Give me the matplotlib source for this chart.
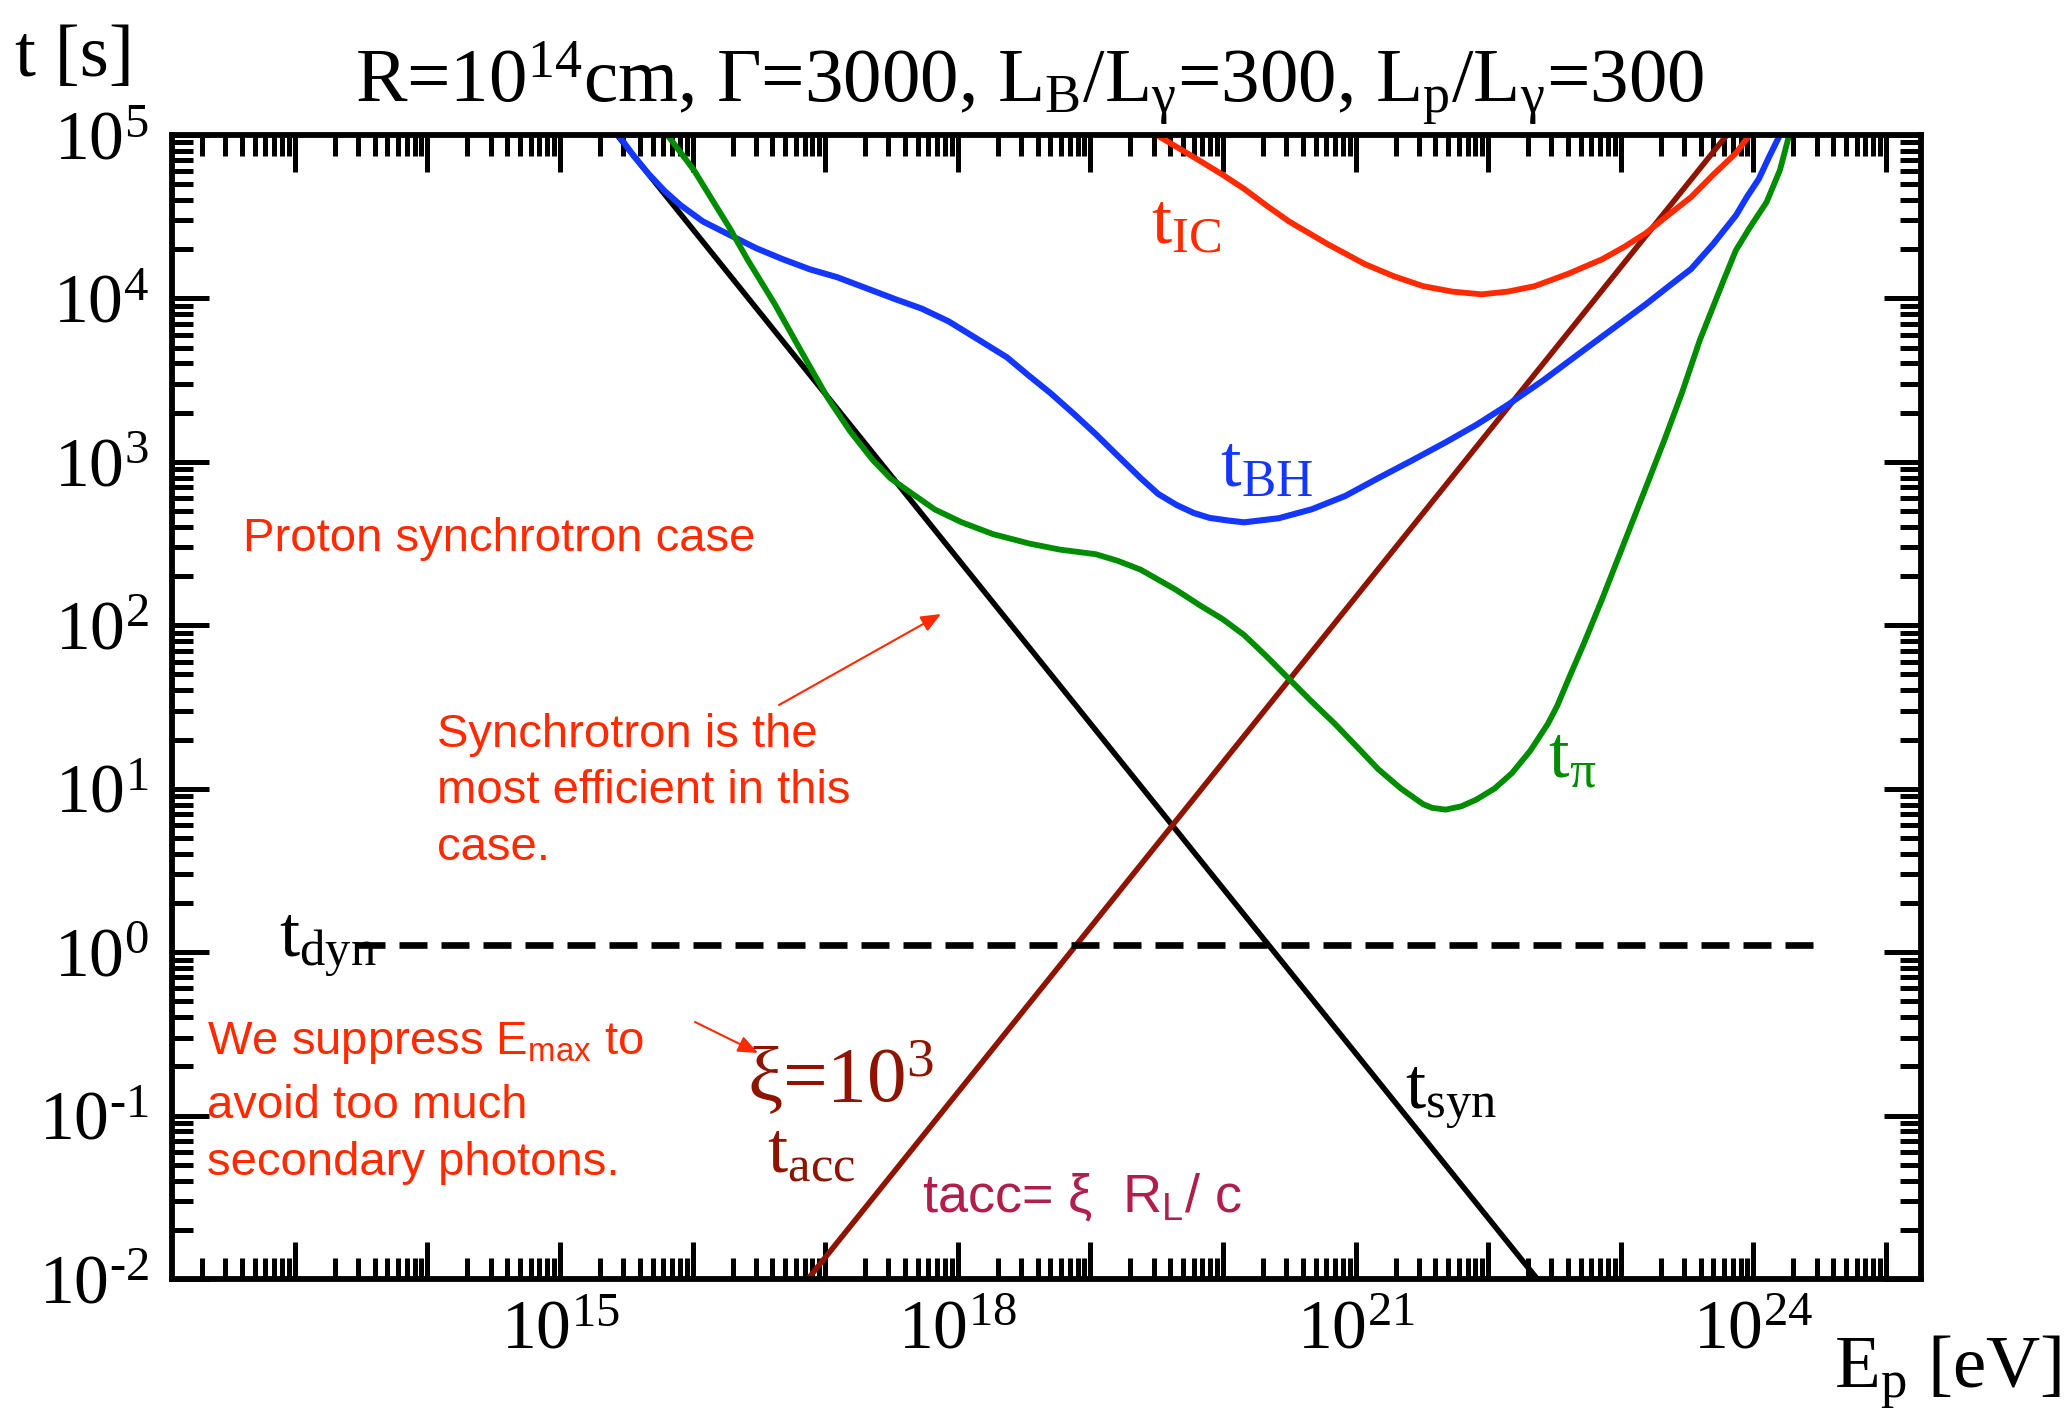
import numpy as np
import matplotlib
matplotlib.use("Agg")
import matplotlib.pyplot as plt
from matplotlib.ticker import FixedLocator, FuncFormatter

plt.rcParams['font.family'] = ['Liberation Serif', 'DejaVu Serif']
plt.rcParams['mathtext.fontset'] = 'custom'
plt.rcParams['mathtext.default'] = 'regular'

# values (log10 of E_p [eV] and log10 of t [s])
syn_logE = [15.43, 22.37]
syn_logt = [5.0, -2.0]

acc_logE = [16.87, 23.80]
acc_logt = [-2.0, 5.0]

dyn_logE = [13.47, 24.46]
dyn_t = [1.1, 1.1]

ic_logE = [19.50, 19.83, 19.995, 20.16, 20.332, 20.50, 20.786, 21.07, 21.291, 21.51,
           21.728, 21.95, 22.149, 22.35, 22.604, 22.86, 23.025, 23.19, 23.361, 23.53,
           23.698, 23.87, 23.97]
ic_logt = [5.00, 4.84, 4.758, 4.67, 4.566, 4.47, 4.334, 4.21, 4.135, 4.075,
           4.042, 4.025, 4.042, 4.075, 4.151, 4.24, 4.315, 4.40, 4.512, 4.62,
           4.758, 4.89, 5.00]

bh_logE = [15.44, 15.556, 15.67, 15.791, 15.91, 16.078, 16.30, 16.481, 16.68, 16.885,
           17.09, 17.289, 17.53, 17.727, 17.93, 18.131, 18.37, 18.535, 18.70, 18.872,
           19.04, 19.208, 19.38, 19.511, 19.65, 19.78, 19.90, 20.049, 20.16, 20.42,
           20.67, 20.921, 21.17, 21.426, 21.68, 21.914, 22.15, 22.419, 22.69, 22.94,
           23.19, 23.361, 23.53, 23.698, 23.87, 23.951, 24.04, 24.119, 24.20]
bh_logt = [5.00, 4.872, 4.76, 4.656, 4.57, 4.471, 4.38, 4.307, 4.24, 4.178,
           4.13, 4.069, 3.995, 3.938, 3.86, 3.760, 3.64, 3.528, 3.42, 3.296,
           3.17, 3.036, 2.90, 2.804, 2.736, 2.687, 2.657, 2.64, 2.63, 2.655,
           2.71, 2.791, 2.90, 3.009, 3.12, 3.228, 3.35, 3.501, 3.665, 3.815,
           3.965, 4.074, 4.18, 4.334, 4.51, 4.621, 4.73, 4.867, 5.00]

pi_logE = [15.81, 16.01, 16.145, 16.28, 16.414, 16.62, 16.818, 17.02, 17.188, 17.36,
           17.491, 17.63, 17.828, 18.03, 18.265, 18.54, 18.77, 19.04, 19.208, 19.38,
           19.646, 19.83, 19.995, 20.16, 20.332, 20.50, 20.668, 20.84, 21.005, 21.17,
           21.342, 21.51, 21.577, 21.68, 21.796, 21.91, 22.048, 22.18, 22.318, 22.45,
           22.52, 22.62, 22.722, 22.86, 23.025, 23.19, 23.328, 23.46, 23.597, 23.77,
           23.867, 23.97, 24.10, 24.20, 24.27]
pi_logt = [5.00, 4.785, 4.607, 4.43, 4.238, 3.965, 3.678, 3.39, 3.187, 3.01,
           2.90, 2.82, 2.708, 2.63, 2.558, 2.50, 2.463, 2.435, 2.394, 2.34,
           2.217, 2.12, 2.039, 1.94, 1.807, 1.67, 1.534, 1.40, 1.261, 1.12,
           1.001, 0.905, 0.883, 0.872, 0.892, 0.933, 1.001, 1.096, 1.233, 1.397,
           1.506, 1.698, 1.889, 2.162, 2.504, 2.845, 3.132, 3.42, 3.747, 4.10,
           4.293, 4.43, 4.59, 4.785, 5.00]

x_labeled = [15, 18, 21, 24]
x_decades = list(range(12, 26))
y_decades = list(range(-2, 6))

RED = '#ff2a00'
BLUE = '#1437ff'
GREEN = '#008c00'
DARKRED = '#8e1400'
CRIMSON = '#b01e4c'

W, H = 2071, 1412
fig = plt.figure(figsize=(W / 100, H / 100), dpi=100)
ax = fig.add_axes([172 / W, 1 - 1279 / H, (1921 - 172) / W, (1279 - 135) / H])


def fx(px):
    return px / W


def fy(py):
    return 1 - py / H


def p10(v):
    return 10 ** np.asarray(v, dtype=float)


ax.plot(p10(syn_logE), p10(syn_logt), color='black', lw=4.0)
ax.plot(p10(acc_logE), p10(acc_logt), color=DARKRED, lw=4.0)
ax.plot(p10(ic_logE), p10(ic_logt), color=RED, lw=4.2)
ax.plot(p10(bh_logE), p10(bh_logt), color=BLUE, lw=4.4)
ax.plot(p10(pi_logE), p10(pi_logt), color=GREEN, lw=4.2)
ax.plot(p10(dyn_logE), dyn_t, color='black', lw=4.8,
        linestyle=(0, (4.2, 2.1)))

ax.set_xscale('log')
ax.set_yscale('log')
xlo, xhi = 10 ** 12.074, 10 ** 25.264
ylo, yhi = 1e-2, 1e5
ax.set_xlim(xlo, xhi)
ax.set_ylim(ylo, yhi)


# only ticks inside the view, so no stray tick labels exist
def ticks_in(decades, lo, hi, subs):
    vals = [k * 10.0 ** d for d in decades for k in subs]
    return [v for v in vals if lo * 0.999 <= v <= hi * 1.001]


ax.xaxis.set_major_locator(FixedLocator(ticks_in(x_decades, xlo, xhi, [1])))
ax.xaxis.set_minor_locator(FixedLocator(ticks_in(x_decades, xlo, xhi, range(2, 10))))
ax.yaxis.set_major_locator(FixedLocator(ticks_in(y_decades, ylo, yhi, [1])))
ax.yaxis.set_minor_locator(FixedLocator(ticks_in(y_decades, ylo, yhi, range(2, 10))))


def xfmt(v, pos):
    e = int(round(np.log10(v)))
    return f'$10^{{{e}}}$' if e in x_labeled else ''


def yfmt(v, pos):
    e = int(round(np.log10(v)))
    s = str(e).replace('-', '\u2010')
    return f'$10^{{{s}}}$'


ax.xaxis.set_major_formatter(FuncFormatter(xfmt))
ax.yaxis.set_major_formatter(FuncFormatter(yfmt))

ax.tick_params(which='both', direction='in', top=True, right=True, width=3.6)
ax.tick_params(which='major', length=26.6)
ax.tick_params(which='minor', length=15)
ax.tick_params(axis='x', which='major', pad=15, labelsize=50)
ax.tick_params(axis='y', which='major', pad=17, labelsize=50)
for s in ax.spines.values():
    s.set_linewidth(4.2)

# axis titles and header
fig.text(fx(15), fy(76), 't [s]', fontsize=54, va='baseline', ha='left')
fig.text(fx(1030), fy(103),
         'R=10$^{14}$cm, Γ=3000, L$_{B}$/L$_{γ}$=300, L$_{p}$/L$_{γ}$=300',
         fontsize=55.5, va='baseline', ha='center')
fig.text(fx(1834), fy(1387), 'E$_{p}$ [eV]', fontsize=54, va='baseline', ha='left')

# curve labels
fig.text(fx(1151), fy(244), 't$_{IC}$', color=RED, fontsize=52, va='baseline')
fig.text(fx(1220), fy(487), 't$_{BH}$', color=BLUE, fontsize=53, va='baseline')
fig.text(fx(1548), fy(777), 't$_{π}$', color=GREEN, fontsize=53, va='baseline')
fig.text(fx(1405), fy(1109), 't$_{syn}$', color='black', fontsize=52, va='baseline')
fig.text(fx(767), fy(1173), 't$_{acc}$', color=DARKRED, fontsize=52, va='baseline')
fig.text(fx(279), fy(957), 't$_{dyn}$', color='black', fontsize=52, va='baseline')
fig.text(fx(747), fy(1102), 'ξ=10$^{3}$', color=DARKRED, fontsize=57, va='baseline')

# red notes
sans = ['Liberation Sans', 'DejaVu Sans']
fig.text(fx(243), fy(551), 'Proton synchrotron case', color=RED, fontsize=34,
         family=sans, va='baseline')
for line, base in zip(['Synchrotron is the', 'most efficient in this', 'case.'],
                      [747, 803, 860]):
    fig.text(fx(437), fy(base), line, color=RED, fontsize=34, family=sans,
             va='baseline')
for line, base in zip(['We suppress E$_{max}$ to', 'avoid too much',
                       'secondary photons.'], [1054, 1118, 1175]):
    fig.text(fx(207), fy(base), line, color=RED, fontsize=34, family=sans,
             va='baseline')
fig.text(fx(922), fy(1212), 'tacc= ξ  R$_{L}$/ c', color=CRIMSON, fontsize=39,
         family=sans, va='baseline')

arrow = dict(arrowstyle='-|>,head_length=0.6,head_width=0.25', color=RED,
             lw=1.5, shrinkA=0, shrinkB=0, mutation_scale=20)
ax.annotate('', xy=(fx(941), fy(614)), xytext=(fx(779), fy(705)),
            xycoords='figure fraction', textcoords='figure fraction',
            arrowprops=arrow)
ax.annotate('', xy=(fx(758), fy(1053)), xytext=(fx(695), fy(1022)),
            xycoords='figure fraction', textcoords='figure fraction',
            arrowprops=arrow)

fig.savefig('out.png', dpi=100)
